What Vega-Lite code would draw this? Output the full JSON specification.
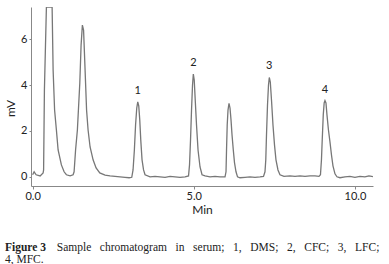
{
  "$schema": "https://vega.github.io/schema/vega-lite/v6.json",
  "width": 342,
  "height": 179,
  "autosize": {"type": "none"},
  "padding": {"left": 31, "top": 7, "right": 16, "bottom": 78},
  "background": "white",
  "config": {
    "view": {"stroke": null},
    "axis": {"grid": false, "domainColor": "#888888", "tickColor": "#888888", "labelFont": "Lato", "titleFont": "Lato", "labelFontSize": 11, "titleFontSize": 12, "labelColor": "#222222", "titleColor": "#222222", "titleFontWeight": "normal"}
  },
  "title": {
    "text": "Figure 3",
    "subtitle": ["\u200b\u00a0\u00a0\u00a0\u00a0\u00a0\u00a0\u00a0\u00a0\u00a0\u00a0\u00a0\u00a0\u00a0\u00a0\u00a0\u00a0\u00a0\u00a0Sample\u00a0\u00a0\u00a0chromatogram\u00a0\u00a0\u00a0in\u00a0\u00a0\u00a0serum;\u00a0\u00a0\u00a01,\u00a0\u00a0\u00a0DMS;\u00a0\u00a0\u00a02,\u00a0\u00a0\u00a0CFC;\u00a0\u00a0\u00a03,\u00a0\u00a0\u00a0LFC;", "4, MFC."],
    "orient": "bottom",
    "anchor": "start",
    "frame": "group",
    "font": "Liberation Serif",
    "fontSize": 11.5,
    "fontWeight": "bold",
    "subtitleFont": "Liberation Serif",
    "subtitleFontSize": 11.5,
    "subtitleFontWeight": "normal",
    "subtitlePadding": -11.5,
    "subtitleLineHeight": 12,
    "dx": -26,
    "offset": 27,
    "color": "#222222",
    "subtitleColor": "#222222"
  },
  "datasets": {
    "trace": [
      {"t": 0.000, "mV": 0.09}, {"t": 0.047, "mV": 0.22}, {"t": 0.109, "mV": 0.09}, {"t": 0.233, "mV": 0.04},
      {"t": 0.326, "mV": 0.17}, {"t": 0.341, "mV": 0.30}, {"t": 0.366, "mV": 3.78}, {"t": 0.428, "mV": 7.4},
      {"t": 0.605, "mV": 7.4}, {"t": 0.636, "mV": 4.65}, {"t": 0.682, "mV": 2.91}, {"t": 0.738, "mV": 2.04},
      {"t": 0.791, "mV": 1.17}, {"t": 0.893, "mV": 0.52}, {"t": 0.977, "mV": 0.22}, {"t": 1.048, "mV": 0.09},
      {"t": 1.163, "mV": 0.04}, {"t": 1.256, "mV": 0.09}, {"t": 1.287, "mV": 0.22}, {"t": 1.333, "mV": 1.17},
      {"t": 1.389, "mV": 2.04}, {"t": 1.464, "mV": 4.09}, {"t": 1.504, "mV": 5.74}, {"t": 1.544, "mV": 6.61},
      {"t": 1.581, "mV": 6.39}, {"t": 1.628, "mV": 4.65}, {"t": 1.674, "mV": 2.91}, {"t": 1.721, "mV": 2.04},
      {"t": 1.783, "mV": 1.30}, {"t": 1.876, "mV": 0.74}, {"t": 1.969, "mV": 0.39}, {"t": 2.084, "mV": 0.17},
      {"t": 2.248, "mV": 0.07}, {"t": 2.403, "mV": 0.04}, {"t": 2.558, "mV": 0.02}, {"t": 2.713, "mV": 0.0},
      {"t": 2.868, "mV": -0.02}, {"t": 2.992, "mV": -0.04}, {"t": 3.076, "mV": -0.02},
      {"t": 3.116, "mV": 0.30}, {"t": 3.157, "mV": 1.17}, {"t": 3.194, "mV": 2.26}, {"t": 3.231, "mV": 3.00},
      {"t": 3.262, "mV": 3.27}, {"t": 3.293, "mV": 3.09}, {"t": 3.324, "mV": 2.48}, {"t": 3.355, "mV": 1.61},
      {"t": 3.395, "mV": 0.74}, {"t": 3.442, "mV": 0.30}, {"t": 3.488, "mV": 0.09}, {"t": 3.643, "mV": 0.0},
      {"t": 3.798, "mV": 0.02}, {"t": 3.953, "mV": 0.0}, {"t": 4.109, "mV": -0.02}, {"t": 4.264, "mV": 0.02},
      {"t": 4.419, "mV": 0.0}, {"t": 4.574, "mV": -0.02}, {"t": 4.729, "mV": 0.0}, {"t": 4.837, "mV": 0.04},
      {"t": 4.868, "mV": 0.52}, {"t": 4.899, "mV": 1.61}, {"t": 4.930, "mV": 2.91}, {"t": 4.961, "mV": 4.00},
      {"t": 4.986, "mV": 4.48}, {"t": 5.014, "mV": 4.22}, {"t": 5.045, "mV": 3.35}, {"t": 5.085, "mV": 2.26},
      {"t": 5.132, "mV": 1.17}, {"t": 5.194, "mV": 0.43}, {"t": 5.256, "mV": 0.09}, {"t": 5.349, "mV": 0.04},
      {"t": 5.504, "mV": 0.0}, {"t": 5.659, "mV": 0.02}, {"t": 5.814, "mV": 0.0}, {"t": 5.969, "mV": 0.0},
      {"t": 6.000, "mV": 0.22}, {"t": 6.016, "mV": 1.17}, {"t": 6.037, "mV": 2.26}, {"t": 6.062, "mV": 2.91},
      {"t": 6.093, "mV": 3.20}, {"t": 6.124, "mV": 3.00}, {"t": 6.155, "mV": 2.48}, {"t": 6.186, "mV": 1.83},
      {"t": 6.226, "mV": 1.17}, {"t": 6.264, "mV": 0.61}, {"t": 6.310, "mV": 0.22}, {"t": 6.357, "mV": 0.0},
      {"t": 6.434, "mV": -0.04}, {"t": 6.589, "mV": -0.02}, {"t": 6.744, "mV": 0.0}, {"t": 6.899, "mV": -0.02},
      {"t": 7.054, "mV": 0.0}, {"t": 7.163, "mV": 0.02},
      {"t": 7.209, "mV": 0.22}, {"t": 7.234, "mV": 0.74}, {"t": 7.256, "mV": 1.83}, {"t": 7.287, "mV": 3.13},
      {"t": 7.318, "mV": 4.00}, {"t": 7.343, "mV": 4.33}, {"t": 7.374, "mV": 4.13}, {"t": 7.411, "mV": 3.35},
      {"t": 7.457, "mV": 2.26}, {"t": 7.504, "mV": 1.39}, {"t": 7.550, "mV": 0.74}, {"t": 7.612, "mV": 0.30},
      {"t": 7.674, "mV": 0.09}, {"t": 7.798, "mV": 0.02}, {"t": 7.984, "mV": 0.04}, {"t": 8.140, "mV": 0.02},
      {"t": 8.295, "mV": 0.04}, {"t": 8.450, "mV": 0.02}, {"t": 8.605, "mV": 0.04}, {"t": 8.760, "mV": 0.04},
      {"t": 8.884, "mV": 0.02}, {"t": 8.930, "mV": 0.09},
      {"t": 8.961, "mV": 0.74}, {"t": 8.986, "mV": 1.65}, {"t": 9.017, "mV": 2.70}, {"t": 9.045, "mV": 3.22},
      {"t": 9.070, "mV": 3.32}, {"t": 9.101, "mV": 3.22}, {"t": 9.132, "mV": 2.70}, {"t": 9.178, "mV": 2.04},
      {"t": 9.225, "mV": 1.52}, {"t": 9.271, "mV": 0.96}, {"t": 9.318, "mV": 0.48}, {"t": 9.380, "mV": 0.13},
      {"t": 9.442, "mV": 0.0}, {"t": 9.535, "mV": -0.04}, {"t": 9.690, "mV": 0.0}, {"t": 9.845, "mV": 0.02},
      {"t": 10.000, "mV": -0.02}, {"t": 10.155, "mV": 0.02}, {"t": 10.310, "mV": 0.0}, {"t": 10.434, "mV": 0.04},
      {"t": 10.558, "mV": 0.01}
    ],
    "peaks": [
      {"label": "1", "t": 3.262, "mV": 3.27},
      {"label": "2", "t": 4.986, "mV": 4.48},
      {"label": "3", "t": 7.343, "mV": 4.33},
      {"label": "4", "t": 9.070, "mV": 3.32}
    ]
  },
  "layer": [
    {
      "data": {"name": "trace"},
      "mark": {"type": "line", "color": "#777777", "strokeWidth": 1.3, "clip": true},
      "encoding": {
        "x": {"field": "t", "type": "quantitative", "scale": {"domain": [-0.05, 10.56], "nice": false, "zero": false},
              "axis": {"values": [0, 5, 10], "format": ".1f", "title": "Min", "tickSize": 3, "labelPadding": 1, "titlePadding": 3}},
        "y": {"field": "mV", "type": "quantitative", "scale": {"domain": [-0.4, 7.4], "nice": false},
              "axis": {"values": [0, 2, 4, 6], "title": "mV", "tickSize": 2, "labelPadding": 2, "titleX": -21, "titleY": 101, "titleBaseline": "middle", "titleAlign": "center"}}
      }
    },
    {
      "data": {"name": "peaks"},
      "mark": {"type": "text", "dy": -11, "baseline": "middle", "font": "Lato", "fontSize": 11, "color": "#222222"},
      "encoding": {
        "x": {"field": "t", "type": "quantitative"},
        "y": {"field": "mV", "type": "quantitative"},
        "text": {"field": "label"}
      }
    }
  ]
}
